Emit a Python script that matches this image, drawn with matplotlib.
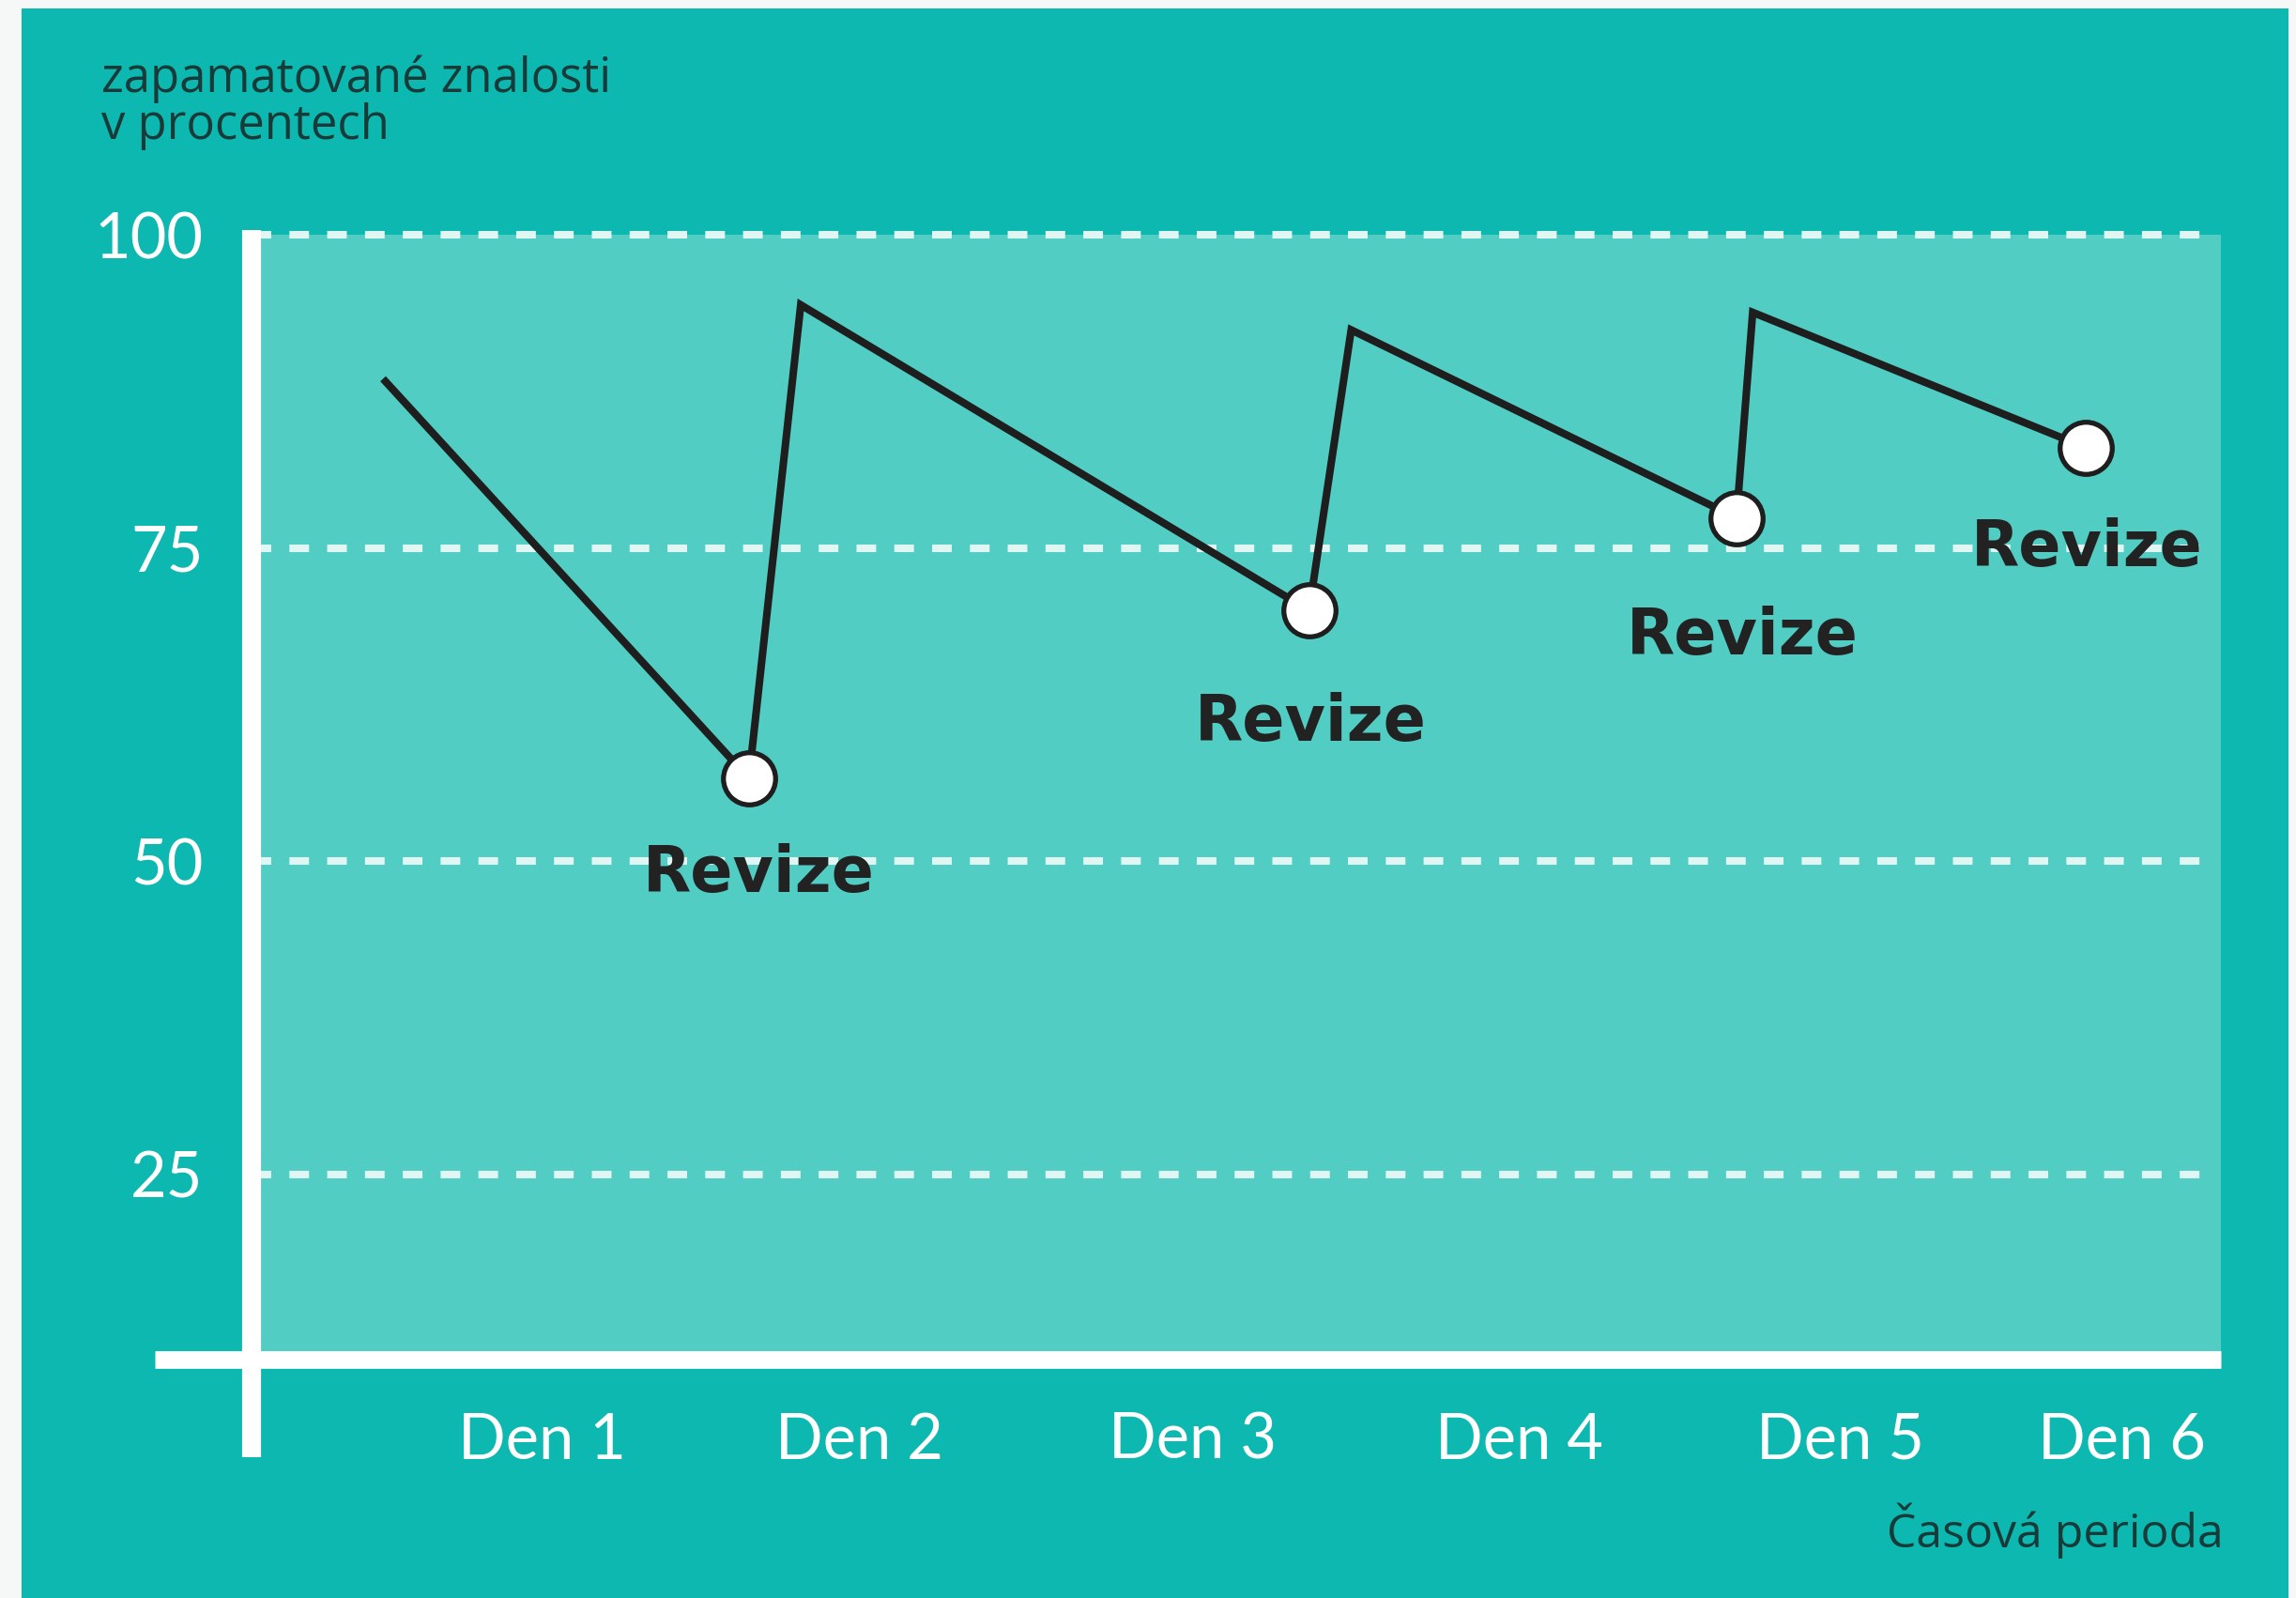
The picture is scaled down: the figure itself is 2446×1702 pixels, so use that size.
import matplotlib
matplotlib.use("Agg")
import matplotlib.pyplot as plt
import matplotlib.patches as patches

# data (x in days, y in percent)
day_x = [0.51, 1.64, 1.80, 3.37, 3.50, 4.69, 4.74, 5.77]
knowledge = [88.5, 56.6, 94.4, 70.0, 92.4, 77.4, 93.8, 83.0]
revision_idx = [1, 3, 5, 7]
revision_label = "Revize"
# label offsets under each circle (pixels)
label_offsets = [(10, -121), (2, -139), (6, -145), (1, -126)]

day_ticks = [1.0, 1.98, 3.01, 4.02, 5.01, 5.88]
day_labels = ["Den 1", "Den 2", "Den 3", "Den 4", "Den 5", "Den 6"]
pct_ticks = [25, 50, 75, 100]

ylabel_text = "zapamatované znalosti\nv procentech"
xlabel_text = "Časová perioda"

# colours
frame_col = "#f6f7f7"
outer_teal = "#0db8b0"
inner_teal = "#52cdc4"
grid_col = "#dff6f3"
line_col = "#1e1e1e"
label_col = "#183b39"

W, H = 2446, 1702
fig = plt.figure(figsize=(W / 100, H / 100), dpi=100)
fig.patch.set_facecolor(frame_col)

# teal panel
fig.patches.append(patches.Rectangle((23 / W, 0), (2438 - 23) / W, 1 - 9 / H,
                                     transform=fig.transFigure, facecolor=outer_teal,
                                     edgecolor="none", zorder=-10))

ax_l, ax_r, ax_t, ax_b = 268, 2366, 250, 1448
ax = fig.add_axes([ax_l / W, 1 - ax_b / H, (ax_r - ax_l) / W, (ax_b - ax_t) / H])
ax.set_zorder(2)
ax.set_facecolor(inner_teal)
ax.set_xlim(0.104, 6.186)
ax.set_ylim(10.2, 100)
for s in ax.spines.values():
    s.set_visible(False)

# dashed grid
for v in pct_ticks:
    ax.axhline(v, xmin=0, xmax=0.997, color=grid_col, lw=5.8, dashes=(2.6, 2.4),
               clip_on=False, zorder=1)

# white axis lines
ax.axvline(0.104, ymin=-0.087, ymax=1.004, color="white", lw=14.5,
           solid_capstyle="butt", clip_on=False, zorder=3)
ax.axhline(10.2, xmin=-0.049, xmax=1.0, color="white", lw=13.5,
           solid_capstyle="butt", clip_on=False, zorder=3)

# forgetting curve
ax.plot(day_x, knowledge, color=line_col, lw=5.8, solid_joinstyle="miter",
        solid_capstyle="butt", zorder=4)
ax.plot([day_x[i] for i in revision_idx], [knowledge[i] for i in revision_idx],
        "o", ms=40, mfc="white", mec=line_col, mew=3.8, zorder=5)

for i, off in zip(revision_idx, label_offsets):
    ax.annotate(revision_label, (day_x[i], knowledge[i]), xytext=off,
                textcoords="offset pixels", ha="center", va="baseline",
                fontsize=48, fontweight="bold", family="DejaVu Sans",
                color="#222222", zorder=6)

ax.set_yticks(pct_ticks)
ax.set_yticklabels([str(v) for v in pct_ticks])
ax.set_xticks(day_ticks)
ax.set_xticklabels(day_labels)
ax.tick_params(axis="y", length=0, pad=37, labelsize=48, labelcolor="white")
ax.tick_params(axis="x", length=0, pad=40, labelsize=48, labelcolor="white")
for t in ax.get_xticklabels() + ax.get_yticklabels():
    t.set_family("Lato")
for t in ax.get_yticklabels():
    t.set_y(t.get_position()[1])
    t.set_va("center_baseline")

fig.text(108 / W, 1 - 58 / H, ylabel_text, ha="left", va="top", fontsize=36.5,
         family="Open Sans", color=label_col, linespacing=1.0)
fig.text(2369 / W, 1 - 1648 / H, xlabel_text, ha="right", va="baseline",
         fontsize=36, family="Open Sans", color=label_col)

fig.savefig("out.png", dpi=100, facecolor=fig.get_facecolor())
